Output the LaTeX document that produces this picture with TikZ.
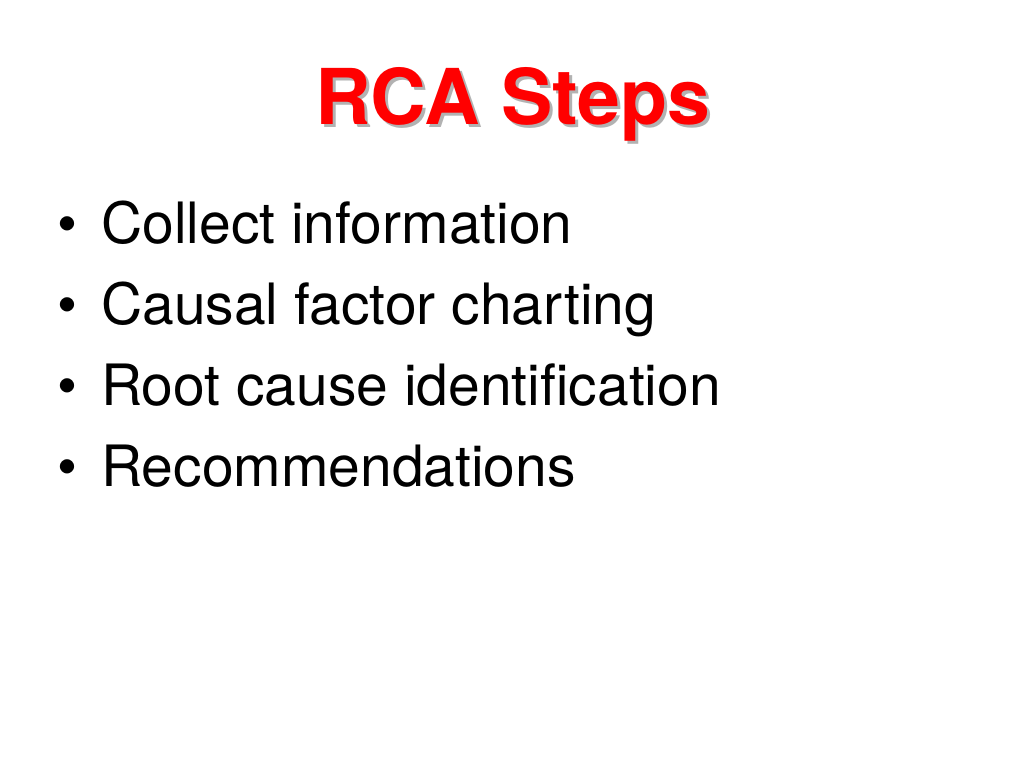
\documentclass[tikz,border=0pt]{standalone}
\usepackage{fontspec}
\setmainfont{TeX Gyre Heros}
\usetikzlibrary{positioning}

\tikzset{
    titletext/.style={text=red, font=\fontsize{77}{82}\selectfont\bfseries, inner sep=0pt, anchor=base},
    shadowtext/.style={titletext, text=black!30},
    itemtext/.style={font=\fontsize{57}{61}\selectfont, inner sep=0pt, anchor=base west},
}

\begin{document}
\begin{tikzpicture}[x=1pt, y=1pt]

    \useasboundingbox[fill=white] (0,0) rectangle (1024,-768);

    % title with its shadow
    \node[shadowtext] (shadow) at (516,-127) {RCA Steps};
    \node[titletext] (title) at (513,-124) {RCA Steps};

    % bullets
    \foreach \txt [count=\i from 0] in {Collect information, Causal factor charting, Root cause identification, Recommendations}{
        \node[itemtext] (dot\i) at (57,-243-81*\i) {\textbullet};
        \node[itemtext] (item\i) at (101,-243-81*\i) {\txt};
    }

\end{tikzpicture}
\end{document}
